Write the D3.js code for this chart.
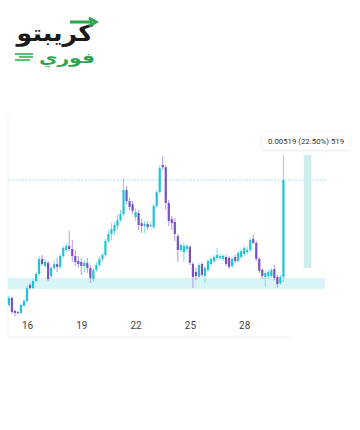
<!DOCTYPE html>
<meta charset="utf-8">
<html>
<head>
<script src="https://d3js.org/d3.v7.min.js"></script>
<style>
  body { margin: 0; background: #fff; }
  svg { display: block; }
</style>
</head>
<body>
<script>
// 4h candles, first one at Jan 15 00:00
var startTime = new Date(2024, 0, 15, 0);
var opens  = [0.02188,0.02218,0.02163,0.02158,0.02154,0.02184,0.02205,0.02273,0.02260,0.02290,0.02320,0.02384,0.02354,0.02367,0.02311,0.02345,0.02362,0.02350,0.02396,0.02422,0.02439,0.02426,0.02396,0.02375,0.02371,0.02354,0.02367,0.02345,0.02298,0.02337,0.02358,0.02384,0.02401,0.02460,0.02490,0.02502,0.02524,0.02549,0.02575,0.02677,0.02630,0.02617,0.02562,0.02579,0.02536,0.02524,0.02532,0.02524,0.02519,0.02609,0.02668,0.02783,0.02774,0.02622,0.02553,0.02541,0.02481,0.02422,0.02413,0.02426,0.02435,0.02362,0.02328,0.02307,0.02362,0.02311,0.02337,0.02362,0.02375,0.02388,0.02388,0.02384,0.02392,0.02388,0.02354,0.02392,0.02375,0.02392,0.02405,0.02413,0.02422,0.02469,0.02452,0.02384,0.02337,0.02307,0.02311,0.02311,0.02341,0.02307,0.02282,0.02307];
var closes = [0.02218,0.02158,0.02154,0.02154,0.02188,0.02205,0.02260,0.02260,0.02290,0.02320,0.02384,0.02362,0.02371,0.02298,0.02345,0.02362,0.02350,0.02396,0.02430,0.02439,0.02426,0.02396,0.02371,0.02362,0.02354,0.02367,0.02345,0.02303,0.02337,0.02358,0.02384,0.02401,0.02460,0.02490,0.02511,0.02528,0.02549,0.02575,0.02677,0.02630,0.02605,0.02588,0.02583,0.02528,0.02524,0.02532,0.02519,0.02528,0.02609,0.02668,0.02770,0.02774,0.02622,0.02545,0.02536,0.02490,0.02422,0.02443,0.02439,0.02439,0.02367,0.02307,0.02311,0.02358,0.02316,0.02345,0.02375,0.02384,0.02392,0.02401,0.02396,0.02396,0.02362,0.02350,0.02384,0.02375,0.02409,0.02417,0.02430,0.02422,0.02464,0.02452,0.02384,0.02333,0.02311,0.02324,0.02328,0.02337,0.02303,0.02277,0.02307,0.02719];
var highs  = [0.02226,0.02222,0.02167,0.02163,0.02192,0.02214,0.02269,0.02282,0.02298,0.02328,0.02396,0.02401,0.02384,0.02375,0.02354,0.02379,0.02388,0.02405,0.02439,0.02452,0.02502,0.02464,0.02422,0.02396,0.02388,0.02379,0.02388,0.02358,0.02345,0.02371,0.02396,0.02409,0.02469,0.02507,0.02536,0.02541,0.02571,0.02592,0.02728,0.02694,0.02643,0.02630,0.02600,0.02592,0.02553,0.02545,0.02545,0.02541,0.02617,0.02677,0.02783,0.02821,0.02783,0.02634,0.02566,0.02558,0.02490,0.02452,0.02456,0.02447,0.02443,0.02371,0.02345,0.02367,0.02371,0.02354,0.02384,0.02392,0.02401,0.02430,0.02405,0.02405,0.02401,0.02396,0.02392,0.02401,0.02417,0.02426,0.02439,0.02435,0.02473,0.02490,0.02460,0.02392,0.02345,0.02333,0.02337,0.02345,0.02358,0.02316,0.02316,0.02826];
var lows   = [0.02180,0.02150,0.02141,0.02146,0.02150,0.02180,0.02197,0.02252,0.02256,0.02282,0.02311,0.02354,0.02345,0.02290,0.02303,0.02337,0.02328,0.02341,0.02388,0.02413,0.02417,0.02371,0.02354,0.02345,0.02316,0.02328,0.02324,0.02282,0.02286,0.02328,0.02350,0.02371,0.02392,0.02452,0.02464,0.02485,0.02507,0.02541,0.02566,0.02617,0.02592,0.02575,0.02545,0.02507,0.02494,0.02494,0.02507,0.02515,0.02511,0.02600,0.02660,0.02762,0.02592,0.02524,0.02507,0.02460,0.02371,0.02413,0.02371,0.02413,0.02358,0.02260,0.02294,0.02303,0.02307,0.02282,0.02328,0.02354,0.02367,0.02379,0.02379,0.02375,0.02354,0.02341,0.02345,0.02367,0.02367,0.02384,0.02396,0.02405,0.02413,0.02447,0.02375,0.02324,0.02298,0.02265,0.02298,0.02303,0.02294,0.02260,0.02273,0.02286];

var tickDays = [16, 19, 22, 25, 28];
var zoneLow = 0.02256, zoneHigh = 0.02303;
var measureLow = 0.02345, measureHigh = 0.02826;
var measureLabel = "0.00519 (22.50%) 519";

var candles = closes.map(function (c, i) {
    return { t: d3.timeHour.offset(startTime, 4 * i), o: opens[i], c: c, h: highs[i], l: lows[i] };
});

var W = 360, H = 430;
var svg = d3.select("body").append("svg").attr("width", W).attr("height", H);

// ---- logo
var logo = svg.append("g");
logo.append("text")
    .attr("transform", "translate(93,41) scale(1.15,1.05)")
    .attr("text-anchor", "end")
    .style("font-family", "DejaVu Sans")
    .style("font-weight", "bold")
    .style("font-size", "22px")
    .style("fill", "#1a1a1a")
    .text("كريبتو");
logo.append("path")
    .attr("d", "M70,22 H92 M89,18 L96,22 L89,26")
    .attr("fill", "none")
    .attr("stroke", "#2ea44f")
    .attr("stroke-width", 3);
logo.append("text")
    .attr("transform", "translate(95,63) scale(1.35,1)")
    .attr("text-anchor", "end")
    .style("font-family", "DejaVu Sans")
    .style("font-weight", "bold")
    .style("font-size", "15px")
    .style("fill", "#2ea44f")
    .text("فوري");
[[15, 54, 33], [19, 57, 33], [15, 60, 30]].forEach(function (s) {
    logo.append("line").attr("x1", s[0]).attr("x2", s[2]).attr("y1", s[1]).attr("y2", s[1])
        .attr("stroke", "#2ea44f").attr("stroke-width", 1.5);
});

// ---- scales
var x = d3.scaleTime()
    .domain([new Date(2024, 0, 15), new Date(2024, 1, 2)])
    .range([8.9, 334.7]);
var y = d3.scaleLinear()
    .domain([d3.min(lows), d3.max(highs)])
    .range([316, 155]);

// faint frame
svg.append("line").attr("x1", 8).attr("x2", 8).attr("y1", 113).attr("y2", 337)
    .attr("stroke", "#f1f1f1");
svg.append("line").attr("x1", 8).attr("x2", 292).attr("y1", 337).attr("y2", 337)
    .attr("stroke", "#f1f1f1");

var last = candles[candles.length - 1];
var xEnd = x(d3.timeHour.offset(last.t, 55));

// support zone
svg.append("rect")
    .attr("x", 8).attr("width", xEnd - 8)
    .attr("y", y(zoneHigh)).attr("height", y(zoneLow) - y(zoneHigh))
    .attr("fill", "#d8f4f6");

// last price dashed line
svg.append("line")
    .attr("x1", 8).attr("x2", xEnd + 2)
    .attr("y1", y(last.c)).attr("y2", y(last.c))
    .attr("stroke", "#8fdbe4")
    .attr("stroke-width", 0.8)
    .attr("stroke-dasharray", "2,1.5");

// measure box
var mx0 = x(d3.timeHour.offset(last.t, 27)), mx1 = x(d3.timeHour.offset(last.t, 37));
svg.append("rect")
    .attr("x", mx0).attr("width", mx1 - mx0)
    .attr("y", y(measureHigh)).attr("height", y(measureLow) - y(measureHigh))
    .attr("fill", "#cdeced");

// candles
var bw = 2.2;
var g = svg.append("g");
g.selectAll("line.wick").data(candles).enter().append("line")
    .attr("class", "wick")
    .attr("x1", function (d) { return x(d.t); })
    .attr("x2", function (d) { return x(d.t); })
    .attr("y1", function (d) { return y(d.h); })
    .attr("y2", function (d) { return y(d.l); })
    .attr("stroke", function (d) { return d.c >= d.o ? "#6fd8e6" : "#a98bdc"; })
    .attr("stroke-width", 0.9);
g.selectAll("rect.body").data(candles).enter().append("rect")
    .attr("class", "body")
    .attr("x", function (d) { return x(d.t) - bw / 2; })
    .attr("width", bw)
    .attr("y", function (d) { return y(Math.max(d.o, d.c)); })
    .attr("height", function (d) { return Math.max(1, Math.abs(y(d.o) - y(d.c))); })
    .attr("fill", function (d) { return d.c >= d.o ? "#22c3d8" : "#7b52c4"; });

// tooltip
var defs = svg.append("defs");
var f = defs.append("filter").attr("id", "sh").attr("x", "-20%").attr("y", "-50%").attr("width", "140%").attr("height", "200%");
f.append("feDropShadow").attr("dx", 0).attr("dy", 0.5).attr("stdDeviation", 1.2).attr("flood-color", "#000").attr("flood-opacity", 0.12);
var tip = svg.append("g").attr("transform", "translate(306,141)");
tip.append("rect")
    .attr("x", -44).attr("y", -9).attr("width", 88).attr("height", 18).attr("rx", 4)
    .attr("fill", "#fff").attr("filter", "url(#sh)");
tip.append("text")
    .attr("text-anchor", "middle").attr("dy", "0.35em")
    .style("font-family", "Roboto, sans-serif")
    .style("font-size", "7.8px")
    .style("fill", "#333")
    .text(measureLabel);

// x axis
var axis = d3.axisBottom(x)
    .tickValues(tickDays.map(function (d) { return new Date(2024, 0, d); }))
    .tickFormat(d3.timeFormat("%-d"))
    .tickSize(0).tickPadding(0);
var ax = svg.append("g").attr("transform", "translate(0,322)").call(axis);
ax.select(".domain").remove();
ax.selectAll("text")
    .style("font-family", "Roboto, sans-serif")
    .style("font-size", "10px")
    .style("fill", "#444");
</script>
</body>
</html>
